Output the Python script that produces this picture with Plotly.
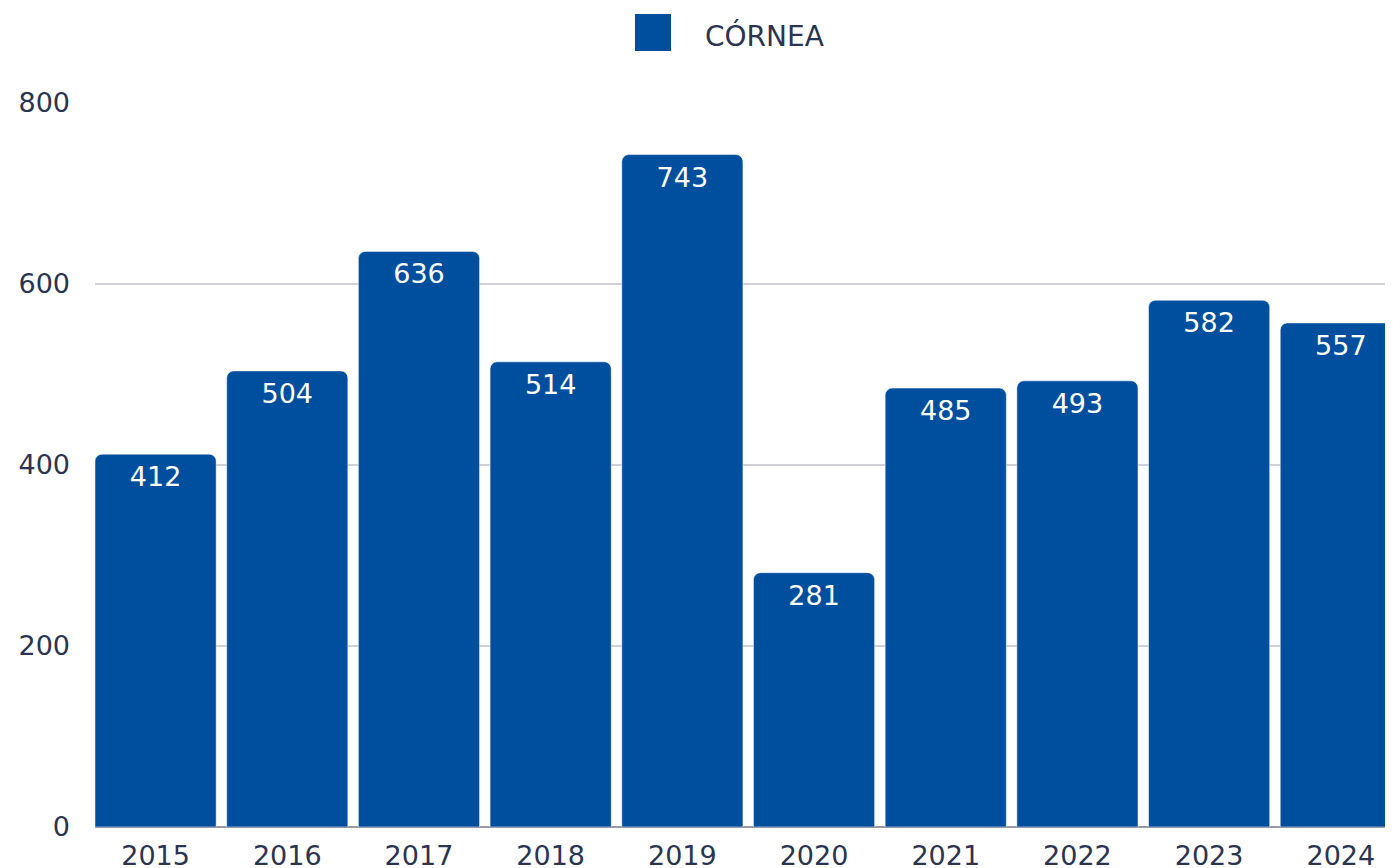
import plotly.graph_objects as go

# Córnea por año
years = ["2015", "2016", "2017", "2018", "2019", "2020", "2021", "2022", "2023", "2024"]
cornea = [412, 504, 636, 514, 743, 281, 485, 493, 582, 557]
y_ticks = [0, 200, 400, 600, 800]
serie = "CÓRNEA"

azul = "#004F9E"
texto = "#2B3450"
fuente = "DejaVu Sans"

fig = go.Figure()

# barras
fig.add_trace(go.Bar(
    x=years, y=cornea, name=serie,
    marker_color=azul,
    text=cornea, textposition="inside", insidetextanchor="end",
    textfont=dict(color="white", size=27, family=fuente),
    showlegend=False,
))

fig.update_layout(
    width=1393, height=868,
    template="plotly_white",
    plot_bgcolor="white", paper_bgcolor="white",
    font=dict(family=fuente, color=texto, size=27),
    margin=dict(l=87, r=0, t=95, b=49),
    bargap=0.08,
    barcornerradius=7,
)

# leyenda arriba al centro (cuadrado grande + texto)
fig.add_shape(type="rect", xref="paper", yref="paper",
              x0=(627 - 87) / 1306, x1=(663 - 87) / 1306,
              y0=1 + (95 - 43) / 724, y1=1 + (95 - 6) / 724,
              fillcolor=azul, line=dict(width=0), layer="above")
fig.add_annotation(text=serie, xref="paper", yref="paper",
                   x=(695 - 87) / 1306, y=1 + (95 - 28) / 724,
                   xanchor="left", yanchor="middle", showarrow=False,
                   font=dict(size=28, color=texto, family=fuente))

fig.update_xaxes(range=[-0.46, 9.457], showgrid=False, tickfont=dict(size=27, color=texto),
                 showline=False, zeroline=False, ticks="", ticklabelstandoff=10)
fig.update_yaxes(range=[0, 800], tickvals=y_ticks, gridcolor="#CFD0D8", gridwidth=2,
                 zeroline=True, zerolinecolor="#9A9AA2", zerolinewidth=2,
                 tickfont=dict(size=27, color=texto), ticklabelstandoff=24)

fig.write_html("out.html")
